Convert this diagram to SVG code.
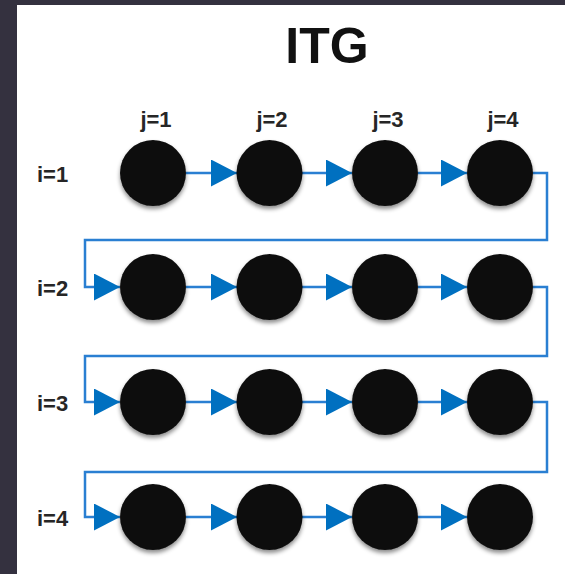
<svg xmlns="http://www.w3.org/2000/svg" width="565" height="574" viewBox="0 0 565 574">
  <style>
    .node { fill: #0b0b0b; filter: url(#shadow); }
    .lbl { font-family: "Liberation Sans", Arial, sans-serif; font-weight: bold; font-size: 22px; fill: #262626; }
    .title { font-family: "Liberation Sans", Arial, sans-serif; font-weight: bold; font-size: 50px; fill: #111; text-anchor: middle; }
    .edge { fill: none; stroke: #2a7fd2; stroke-width: 2.5; marker-end: url(#head); }
  </style>
  <defs>
    <filter id="shadow" x="-30%" y="-30%" width="160%" height="170%">
      <feDropShadow dx="0" dy="3" stdDeviation="2" flood-color="#000" flood-opacity="0.45"/>
    </filter>
    <marker id="head" markerUnits="userSpaceOnUse" markerWidth="26" markerHeight="27" refX="26" refY="13.5" orient="auto">
      <path d="M0,0 L26,13.5 L0,27 Z" fill="#0070C0"/>
    </marker>
  </defs>

  <!-- frame -->
  <rect x="0" y="0" width="565" height="574" fill="#34313f"/>
  <rect x="17" y="5" width="548" height="569" fill="#ffffff"/>

  <!-- title and axis labels -->
  <text class="title" x="327" y="63">ITG</text>
  <g id="labels">
    <text class="lbl" x="156" y="127" text-anchor="middle">j=1</text>
    <text class="lbl" x="272" y="127" text-anchor="middle">j=2</text>
    <text class="lbl" x="388" y="127" text-anchor="middle">j=3</text>
    <text class="lbl" x="503" y="127" text-anchor="middle">j=4</text>
    <text class="lbl" x="37" y="182">i=1</text>
    <text class="lbl" x="37" y="296">i=2</text>
    <text class="lbl" x="37" y="411">i=3</text>
    <text class="lbl" x="37" y="526">i=4</text>
  </g>

  <!-- connectors -->
  <g id="connectors">
    <!-- row 1 -->
    <path class="edge" d="M186,173 H237"/>
    <path class="edge" d="M302,173 H352"/>
    <path class="edge" d="M418,173 H467"/>
    <path class="edge" d="M533,173 H547 V240 H85 V287 H120"/>
    <!-- row 2 -->
    <path class="edge" d="M186,287 H237"/>
    <path class="edge" d="M302,287 H352"/>
    <path class="edge" d="M418,287 H467"/>
    <path class="edge" d="M533,287 H547 V356 H85 V402 H120"/>
    <!-- row 3 -->
    <path class="edge" d="M186,402 H237"/>
    <path class="edge" d="M302,402 H352"/>
    <path class="edge" d="M418,402 H467"/>
    <path class="edge" d="M533,402 H547 V472 H85 V517 H120"/>
    <!-- row 4 -->
    <path class="edge" d="M186,517 H237"/>
    <path class="edge" d="M302,517 H352"/>
    <path class="edge" d="M418,517 H467"/>
  </g>

  <!-- nodes -->
  <g id="n-1-1"><circle class="node" cx="153" cy="173" r="33"/></g>
  <g id="n-1-2"><circle class="node" cx="269.5" cy="173" r="33"/></g>
  <g id="n-1-3"><circle class="node" cx="385" cy="173" r="33"/></g>
  <g id="n-1-4"><circle class="node" cx="500" cy="173" r="33"/></g>
  <g id="n-2-1"><circle class="node" cx="153" cy="287" r="33"/></g>
  <g id="n-2-2"><circle class="node" cx="269.5" cy="287" r="33"/></g>
  <g id="n-2-3"><circle class="node" cx="385" cy="287" r="33"/></g>
  <g id="n-2-4"><circle class="node" cx="500" cy="287" r="33"/></g>
  <g id="n-3-1"><circle class="node" cx="153" cy="402" r="33"/></g>
  <g id="n-3-2"><circle class="node" cx="269.5" cy="402" r="33"/></g>
  <g id="n-3-3"><circle class="node" cx="385" cy="402" r="33"/></g>
  <g id="n-3-4"><circle class="node" cx="500" cy="402" r="33"/></g>
  <g id="n-4-1"><circle class="node" cx="153" cy="517" r="33"/></g>
  <g id="n-4-2"><circle class="node" cx="269.5" cy="517" r="33"/></g>
  <g id="n-4-3"><circle class="node" cx="385" cy="517" r="33"/></g>
  <g id="n-4-4"><circle class="node" cx="500" cy="517" r="33"/></g>
</svg>
